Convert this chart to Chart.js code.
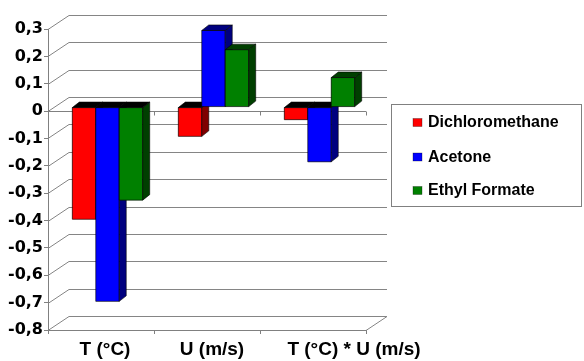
<!DOCTYPE html>
<html>
<head>
<meta charset="utf-8">
<script src="https://cdn.jsdelivr.net/npm/chart.js@4/dist/chart.umd.min.js"></script>
<style>
  html, body { margin: 0; padding: 0; background: #ffffff; }
  #wrap { width: 584px; height: 361px; }
</style>
</head>
<body>
<div id="wrap"><canvas id="chart" width="584" height="361"></canvas></div>
<script>
// Factors on the category axis
const categories = ['T (°C)', 'U (m/s)', 'T (°C) * U (m/s)'];

// Effect of each factor per solvent
const dichloromethane = [-0.41, -0.107, -0.046];
const acetone = [-0.71, 0.28, -0.20];
const ethylFormate = [-0.34, 0.21, 0.108];

const seriesNames = ['Dichloromethane', 'Acetone', 'Ethyl Formate'];

// Value axis range and tick step
const yMin = -0.8;
const yMax = 0.3;
const yStep = 0.1;

const FONT = '"Liberation Sans", Arial, sans-serif';
const WIDE_FONT = '"DejaVu Sans", Verdana, sans-serif';

// Oblique depth of the whole plot box, and of the bars inside it
const WALL = { x: 21, y: -14 };
const BAR_SHIFT = { x: 6.5, y: -4 };
const BAR_DEPTH = { x: 7, y: -5.5 };

// Horizontal nudge of each category label from its slot centre
const LABEL_NUDGE = [4, 5, 41];

const faceColors = [
  { front: '#ff0000', side: '#7f0000', top: '#7f0000' },
  { front: '#0000ff', side: '#00007f', top: '#00007f' },
  { front: '#008000', side: '#003f00', top: '#003f00' }
];

function poly(ctx, pts, fill) {
  ctx.beginPath();
  ctx.moveTo(pts[0][0], pts[0][1]);
  for (let i = 1; i < pts.length; i++) ctx.lineTo(pts[i][0], pts[i][1]);
  ctx.closePath();
  ctx.fillStyle = fill;
  ctx.fill();
  ctx.lineWidth = 0.8;
  ctx.strokeStyle = 'rgba(0,0,0,0.75)';
  ctx.stroke();
}

const box3d = {
  id: 'box3d',
  beforeDatasetsDraw(chart) {
    const { ctx, chartArea: a, scales } = chart;
    const ys = scales.y;
    ctx.save();
    ctx.lineWidth = 1;
    ctx.strokeStyle = '#858585';
    // side wall diagonals and back wall gridlines
    ys.ticks.forEach(t => {
      const y = Math.round(ys.getPixelForValue(t.value)) + 0.5;
      ctx.beginPath();
      ctx.moveTo(a.left, y);
      ctx.lineTo(a.left + WALL.x, y + WALL.y);
      ctx.lineTo(a.right + WALL.x, y + WALL.y);
      ctx.stroke();
    });
    // floor, right edge
    const fb = Math.round(a.bottom) + 0.5;
    ctx.beginPath();
    ctx.moveTo(a.right, fb);
    ctx.lineTo(a.right + WALL.x, fb + WALL.y);
    ctx.stroke();
    // category axis crossing at zero, with its tick marks
    const y0 = Math.round(ys.getPixelForValue(0)) + 0.5;
    ctx.strokeStyle = '#808080';
    ctx.beginPath();
    ctx.moveTo(a.left, y0);
    ctx.lineTo(a.right, y0);
    const n = categories.length;
    for (let i = 1; i <= n; i++) {
      const x = Math.round(a.left + (a.right - a.left) * i / n) + 0.5;
      ctx.moveTo(x, y0);
      ctx.lineTo(x, y0 + 4);
    }
    ctx.stroke();
    ctx.restore();

    // bars sit one third deep inside the box
    ctx.save();
    ctx.translate(BAR_SHIFT.x, BAR_SHIFT.y);
  },
  afterDatasetsDraw(chart) {
    const { ctx } = chart;
    // solid bars, painted left to right so each one hides its neighbour's side
    chart.data.datasets.forEach((ds, d) => {
      const meta = chart.getDatasetMeta(d);
      const col = faceColors[d];
      meta.data.forEach((bar, i) => {
        const p = bar.getProps(['x', 'y', 'base', 'width'], true);
        const l = p.x - p.width / 2;
        const r = p.x + p.width / 2;
        const top = Math.min(p.y, p.base);
        const bot = Math.max(p.y, p.base);
        const dx = BAR_DEPTH.x, dy = BAR_DEPTH.y;
        poly(ctx, [[l, top], [r, top], [r, bot], [l, bot]], col.front);
        poly(ctx, [[r, top], [r + dx, top + dy], [r + dx, bot + dy], [r, bot]], col.side);
        poly(ctx, [[l, top], [l + dx, top + dy], [r + dx, top + dy], [r, top]],
          ds.data[i] >= 0 ? col.top : '#000000');
      });
    });
    ctx.restore();
  },
  afterDraw(chart) {
    const { ctx, chartArea: a, scales } = chart;
    ctx.save();
    // category labels
    ctx.fillStyle = '#000000';
    ctx.font = 'bold 19px ' + FONT;
    ctx.textAlign = 'center';
    ctx.textBaseline = 'middle';
    chart.data.labels.forEach((lab, i) => {
      const x = scales.x.getPixelForTick(i) + LABEL_NUDGE[i];
      ctx.fillText(lab, x, a.bottom + 20);
    });

    // legend box
    const bx = 391.5, by = 104.5, bw = 190, bh = 102;
    ctx.fillStyle = '#ffffff';
    ctx.fillRect(bx, by, bw, bh);
    ctx.strokeStyle = '#808080';
    ctx.lineWidth = 1;
    ctx.strokeRect(bx, by, bw, bh);
    const rows = [122.5, 157, 190.5];
    chart.data.datasets.forEach((ds, i) => {
      const cy = rows[i];
      ctx.fillStyle = ds.backgroundColor;
      ctx.fillRect(413, cy - 4, 9, 8);
      ctx.strokeStyle = 'rgba(0,0,0,0.5)';
      ctx.lineWidth = 0.6;
      ctx.strokeRect(413, cy - 4, 9, 8);
      ctx.fillStyle = '#000000';
      ctx.font = 'bold 16px ' + FONT;
      ctx.textBaseline = 'middle';
      ctx.textAlign = 'left';
      ctx.fillText(ds.label, 428, cy + 0.5);
    });
    ctx.restore();
  }
};

const datasets = [dichloromethane, acetone, ethylFormate].map((vals, i) => ({
  label: seriesNames[i],
  data: vals,
  backgroundColor: faceColors[i].front,
  borderColor: 'rgba(0,0,0,0.75)',
  borderWidth: 0.8,
  borderSkipped: false,
  categoryPercentage: 0.664,
  barPercentage: 1.0,
  clip: false
}));

new Chart(document.getElementById('chart'), {
  type: 'bar',
  data: { labels: categories, datasets },
  options: {
    responsive: false,
    animation: false,
    devicePixelRatio: 1,
    layout: { padding: { left: 0, right: 218, top: 29, bottom: 0 } },
    plugins: {
      legend: { display: false },
      tooltip: { enabled: false }
    },
    scales: {
      x: {
        afterFit(scale) { scale.height = 31; },
        border: { display: true, color: '#808080', width: 1 },
        grid: { offset: true, drawOnChartArea: false, drawTicks: true, tickLength: 4, color: '#808080' },
        ticks: { display: false }
      },
      y: {
        min: yMin,
        max: yMax,
        afterFit(scale) { scale.width = 48; },
        border: { display: true, color: '#808080', width: 1 },
        grid: { drawOnChartArea: false, drawTicks: true, tickLength: 4, color: '#808080' },
        ticks: {
          stepSize: yStep,
          color: '#000000',
          padding: 1,
          font: { family: WIDE_FONT, size: 16, weight: 'bold' },
          callback(v) {
            const r = Math.round(v * 10) / 10;
            return r === 0 ? '0' : r.toFixed(1).replace('.', ',');
          }
        }
      }
    }
  },
  plugins: [box3d]
});
</script>
</body>
</html>
